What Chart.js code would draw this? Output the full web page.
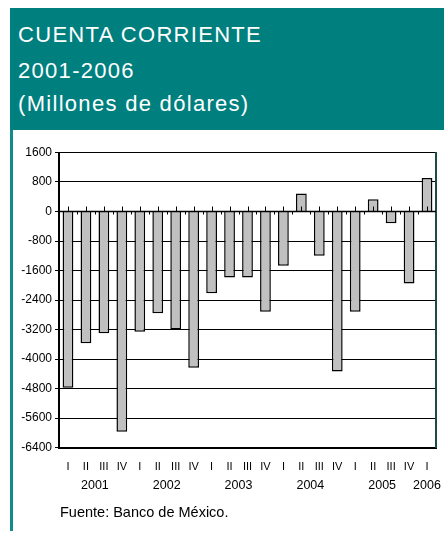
<!DOCTYPE html>
<html>
<head>
<meta charset="utf-8">
<script src="https://cdn.jsdelivr.net/npm/chart.js@4"></script>
<style>
  html, body { margin:0; padding:0; background:#fff; width:444px; height:533px; overflow:hidden; }
  #header { position:absolute; left:10px; top:8px; width:434px; height:122px; background:#007F7F; }
  .hl { position:absolute; left:8px; color:#fff; font-family:"Liberation Sans", Arial, sans-serif; font-size:22px; line-height:26px; letter-spacing:1.3px; white-space:nowrap; }
  #leftbar { position:absolute; left:10px; top:130px; width:3px; height:401px; background:#138A8A; }
  #wrap { position:absolute; left:0; top:130px; width:444px; height:403px; }
  #src { position:absolute; left:60px; top:504px; font-family:"Liberation Sans", Arial, sans-serif; font-size:14.5px; color:#000; white-space:nowrap; }
</style>
</head>
<body>
<div id="header">
  <div class="hl" style="top:14px">CUENTA CORRIENTE</div>
  <div class="hl" style="top:50px">2001-2006</div>
  <div class="hl" style="top:83px">(Millones de dólares)</div>
</div>
<div id="leftbar"></div>
<div id="wrap"><canvas id="c" width="444" height="403"></canvas></div>
<div id="src">Fuente: Banco de México.</div>
<script>
const quarterLabels = ['I','II','III','IV','I','II','III','IV','I','II','III','IV','I','II','III','IV','I','II','III','IV','I'];
const yearLabels = ['2001','2002','2003','2004','2005','2006'];
const quartersPerYear = [4,4,4,4,4,1];
const cuentaCorriente = [-4780,-3575,-3300,-5970,-3260,-2760,-3200,-4240,-2220,-1790,-1790,-2720,-1470,490,-1200,-4340,-2720,330,-320,-1950,910];
const yTickValues = [1600,800,0,-800,-1600,-2400,-3200,-4000,-4800,-5600,-6400];

Chart.defaults.font.family = '"Liberation Sans", Arial, sans-serif';
Chart.defaults.color = '#000';

const decor = {
  id: 'decor',
  afterDatasetsDraw(chart) {
    const ctx = chart.ctx, x = chart.scales.x, y = chart.scales.y, area = chart.chartArea;
    const y0 = y.getPixelForValue(0);
    ctx.save();
    ctx.strokeStyle = '#000';
    ctx.lineWidth = 1.5;
    ctx.beginPath();
    ctx.moveTo(area.left, y0); ctx.lineTo(area.right, y0);
    ctx.stroke();
    ctx.lineWidth = 1;
    for (let i = 0; i < quarterLabels.length; i++) {
      const cx = x.getPixelForValue(i);
      const bx = (x.getPixelForValue(i) + x.getPixelForValue(i + 1)) / 2;
      ctx.beginPath();
      ctx.moveTo(Math.round(cx) + 0.5, y0); ctx.lineTo(Math.round(cx) + 0.5, y0 - 5);
      if (i < quarterLabels.length - 1) {
        ctx.moveTo(Math.round(bx) + 0.5, y0); ctx.lineTo(Math.round(bx) + 0.5, y0 + 3);
      }
      ctx.stroke();
    }
    // year labels centred under their quarters
    ctx.fillStyle = '#000';
    ctx.font = '12.5px "Liberation Sans", Arial, sans-serif';
    ctx.textAlign = 'center';
    ctx.textBaseline = 'middle';
    let s = 0;
    yearLabels.forEach((yr, k) => {
      const e = s + quartersPerYear[k] - 1;
      const px = (x.getPixelForValue(s) + x.getPixelForValue(e)) / 2;
      ctx.fillText(yr, px, area.bottom + 38);
      s = e + 1;
    });
    ctx.restore();
  }
};

new Chart(document.getElementById('c'), {
  type: 'bar',
  data: {
    labels: quarterLabels,
    datasets: [{
      data: cuentaCorriente,
      backgroundColor: '#C0C0C0',
      borderColor: '#000',
      borderWidth: 1.5,
      barPercentage: 0.6,
      categoryPercentage: 1.0
    }]
  },
  options: {
    responsive: false,
    animation: false,
    devicePixelRatio: 1,
    layout: { padding: { left: 0, right: 0, top: 22.5, bottom: 0 } },
    plugins: { legend: { display: false }, tooltip: { enabled: false }, title: { display: false } },
    scales: {
      x: {
        grid: { display: false, drawTicks: false },
        border: { display: true, color: '#000', width: 2 },
        ticks: { font: { size: 11 }, padding: 13, autoSkip: false, maxRotation: 0, minRotation: 0 },
        afterFit: s => { s.height = 85.5; }
      },
      y: {
        min: -6400, max: 1600,
        afterBuildTicks: s => { s.ticks = yTickValues.map(v => ({ value: v })); },
        grid: { color: '#000', lineWidth: 1, drawTicks: true, tickLength: 4, tickColor: '#000' },
        border: { display: true, color: '#000', width: 2 },
        ticks: { font: { size: 12 }, padding: 3, callback: v => String(v) },
        afterFit: s => { s.width = 59; }
      },
      yR: {
        position: 'right',
        display: true,
        min: -6400, max: 1600,
        grid: { display: false, drawTicks: false },
        ticks: { display: false },
        border: { display: true, color: '#1d4a4a', width: 2 },
        afterFit: s => { s.width = 8; }
      }
    }
  },
  plugins: [decor]
});
</script>
</body>
</html>
